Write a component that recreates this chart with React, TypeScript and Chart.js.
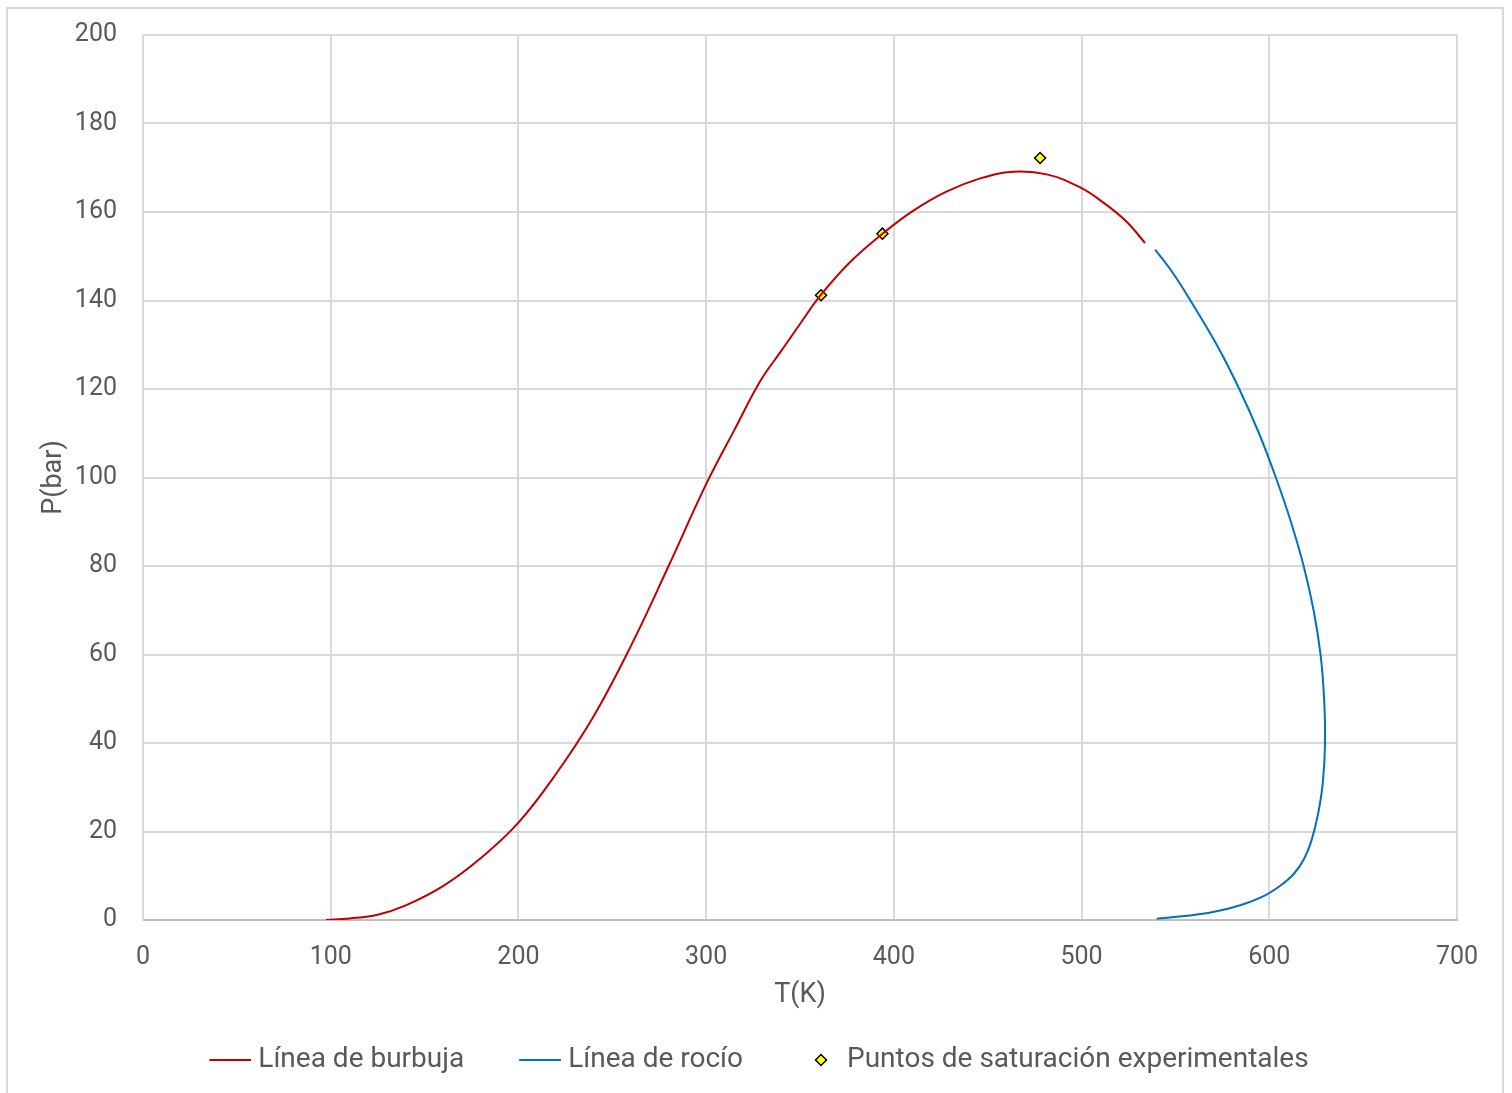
import { useEffect, useRef } from "react";
import { Chart, registerables } from "chart.js";

Chart.register(...registerables);

// Bubble-point curve (T in K, P in bar)
const bubbleT = [97.5, 110, 125, 140, 160, 180, 200, 220, 240, 260, 280, 300, 315, 329, 340, 350, 361, 377, 394, 410, 428, 446, 463.5, 481.5, 499, 512, 524, 533.8];
const bubbleP = [0, 0.35, 1.2, 3.3, 7.7, 14, 22, 33, 46, 62, 80, 98.5, 110.7, 121.9, 128.6, 134.7, 141.2, 148.8, 155.1, 160.2, 164.6, 167.6, 169.1, 168.5, 165.6, 162, 157.8, 153];

// Dew-point curve
const dewT = [540, 555, 570, 585, 597, 606, 613, 618.5, 622.5, 626, 628.5, 629.7, 629.2, 627.3, 623.6, 618.3, 611.5, 603.5, 594.5, 584, 572, 558, 549, 539.2];
const dewP = [0.3, 0.9, 1.8, 3.4, 5.4, 7.8, 10.4, 13.8, 18, 24, 31, 40, 50, 60, 70, 80, 90, 100, 110, 120, 130, 140, 146, 151.5];

// Experimental saturation points
const expT = [361.2, 393.9, 477.9];
const expP = [141.2, 155.1, 172.2];

const seriesNames = ["Línea de burbuja", "Línea de rocío", "Puntos de saturación experimentales"];
const xAxisTitle = "T(K)";
const yAxisTitle = "P(bar)";
const xRange = { min: 0, max: 700, step: 100 };
const yRange = { min: 0, max: 200, step: 20 };

const FONT = "Roboto, 'Open Sans', sans-serif";
const TEXT = "#595959";
const GRID = "#d9d9d9";
const RED = "#C00000";
const BLUE = "#0070C0";

const toPoints = (xs: number[], ys: number[]) => xs.map((x, i) => ({ x, y: ys[i] }));

// Legend symbols: 56x16 sprites so the symbol sits close to its label
function lineIcon(color: string): HTMLCanvasElement {
  const c = document.createElement("canvas");
  c.width = 56;
  c.height = 16;
  const g = c.getContext("2d")!;
  g.strokeStyle = color;
  g.lineWidth = 2;
  g.beginPath();
  g.moveTo(14, 8);
  g.lineTo(56, 8);
  g.stroke();
  return c;
}

function diamondIcon(): HTMLCanvasElement {
  const c = document.createElement("canvas");
  c.width = 56;
  c.height = 16;
  const g = c.getContext("2d")!;
  const cx = 37, cy = 8, r = 5.5;
  g.beginPath();
  g.moveTo(cx - r, cy);
  g.lineTo(cx, cy - r);
  g.lineTo(cx + r, cy);
  g.lineTo(cx, cy + r);
  g.closePath();
  g.fillStyle = "#FFFF00";
  g.fill();
  g.lineWidth = 1.5;
  g.strokeStyle = "#000000";
  g.stroke();
  return c;
}

const PAD_LEFT = 54;

export default function App() {
  const canvasRef = useRef<HTMLCanvasElement | null>(null);

  useEffect(() => {
    if (!canvasRef.current) return;
    const icons = [lineIcon(RED), lineIcon(BLUE), diamondIcon()];
    const chart = new Chart(canvasRef.current, {
      type: "scatter",
      data: {
        datasets: [
          {
            label: seriesNames[0],
            data: toPoints(bubbleT, bubbleP),
            showLine: true,
            borderColor: RED,
            backgroundColor: RED,
            borderWidth: 2,
            pointRadius: 0,
            tension: 0.4,
          },
          {
            label: seriesNames[1],
            data: toPoints(dewT, dewP),
            showLine: true,
            borderColor: BLUE,
            backgroundColor: BLUE,
            borderWidth: 2,
            pointRadius: 0,
            tension: 0.4,
          },
          {
            label: seriesNames[2],
            data: toPoints(expT, expP),
            showLine: false,
            pointStyle: "rectRot",
            pointRadius: 5.5,
            pointBackgroundColor: "#FFFF00",
            pointBorderColor: "#000000",
            pointBorderWidth: 1.5,
          },
        ],
      },
      options: {
        animation: false,
        responsive: true,
        maintainAspectRatio: false,
        layout: { padding: { left: PAD_LEFT, top: 35, right: 55, bottom: 9 } },
        plugins: {
          tooltip: { enabled: false },
          legend: {
            position: "bottom",
            labels: {
              usePointStyle: true,
              pointStyleWidth: 42,
              padding: 48,
              color: TEXT,
              font: { family: FONT, size: 28 },
              generateLabels: (ch: Chart) => {
                const items = Chart.defaults.plugins.legend.labels.generateLabels(ch);
                return items.map((it: any, i: number) => ({ ...it, pointStyle: icons[i] }));
              },
            },
          },
        },
        scales: {
          x: {
            type: "linear",
            min: xRange.min,
            max: xRange.max,
            ticks: {
              stepSize: xRange.step,
              color: TEXT,
              padding: 23,
              font: { family: FONT, size: 25 },
            },
            grid: { color: GRID, lineWidth: 2, drawTicks: false },
            border: { color: "#bfbfbf", width: 2 },
            title: {
              display: true,
              text: xAxisTitle,
              color: TEXT,
              font: { family: FONT, size: 27 },
              padding: { top: 0, bottom: -13 },
            },
            afterFit: (s: any) => {
              s.height = 78;
            },
          },
          y: {
            type: "linear",
            min: yRange.min,
            max: yRange.max,
            ticks: {
              stepSize: yRange.step,
              color: TEXT,
              padding: 26,
              font: { family: FONT, size: 25 },
            },
            grid: { color: GRID, lineWidth: 2, drawTicks: false },
            border: { color: GRID, width: 2 },
            title: {
              display: true,
              text: yAxisTitle,
              color: TEXT,
              font: { family: FONT, size: 27 },
              padding: { top: 38 - PAD_LEFT, bottom: 0 },
            },
            afterFit: (s: any) => {
              s.width = 143 - PAD_LEFT;
              s.paddingTop = 0;
              s.paddingBottom = 0;
            },
          },
        },
      },
    });
    return () => chart.destroy();
  }, []);

  return (
    <div
      style={{
        position: "absolute",
        left: 0,
        top: 0,
        width: 1512,
        height: 1093,
        overflow: "hidden",
        background: "#ffffff",
      }}
    >
      <div
        style={{
          position: "absolute",
          left: 6,
          top: 7,
          width: 1498,
          height: 1110,
          boxSizing: "border-box",
          border: "2px solid #d9d9d9",
        }}
      />
      <div style={{ position: "absolute", left: 0, top: 0, width: 1512, height: 1093 }}>
        <canvas ref={canvasRef} />
      </div>
    </div>
  );
}
